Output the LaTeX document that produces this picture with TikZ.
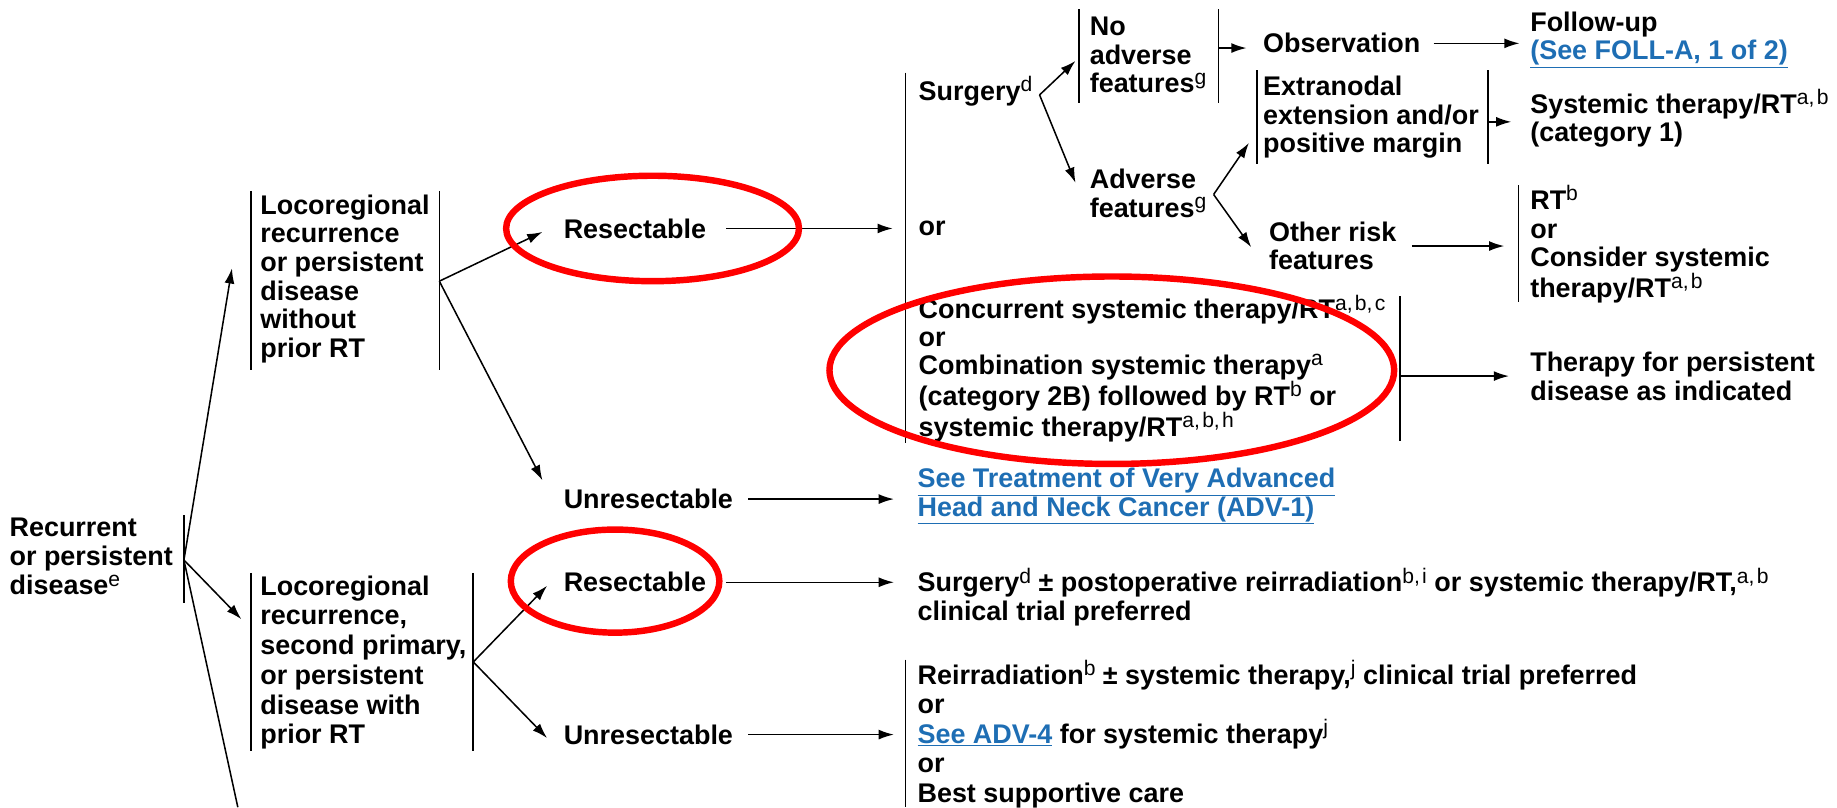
\documentclass[tikz,border=0pt]{standalone}
\usepackage{fontspec}
\setmainfont{Liberation Sans}
\usetikzlibrary{arrows.meta,calc}
\definecolor{linkblue}{RGB}{30,110,180}
\definecolor{markred}{RGB}{255,0,0}
% footnote markers: regular weight, slightly spaced after commas
\newcommand\fnote[1]{\raisebox{7.5pt}{\mdseries\fontsize{18}{18}\selectfont #1}}
\newcommand\sk{\kern2pt}
\newcommand\lnk[1]{{\color{linkblue}\underline{#1}}}
\begin{document}
\begin{tikzpicture}[x=1pt,y=-1pt,
  txt/.style={anchor=west,inner sep=0pt,align=left,font=\bfseries\fontsize{23}{24.4}\selectfont},
  lsk/.style={font=\bfseries\fontsize{23}{#1}\selectfont},
  arr/.style={-{Latex[length=13pt,width=8.5pt]},line width=1.3pt},
  plain/.style={line width=1.3pt},
  barline/.style={line width=1.4pt},
  hilite/.style={draw=markred,line width=5.5pt}]
\useasboundingbox (0,0) rectangle (1568,689);

% ---- text blocks ----
\node[txt,lsk=25] (root) at (8,475) {Recurrent\\or persistent\\disease\fnote{e}};
\node[txt] (box1) at (222,238) {Locoregional\\recurrence\\or persistent\\disease\\without\\prior RT};
\node[txt,lsk=25.4] (box2) at (222,565.5) {Locoregional\\recurrence,\\second primary,\\or persistent\\disease with\\prior RT};
\node[txt] (res1) at (481,195) {Resectable};
\node[txt] (unres1) at (481,426) {Unresectable};
\node[txt] (res2) at (481,497) {Resectable};
\node[txt] (unres2) at (481,627) {Unresectable};
\node[txt] (surg) at (784,78) {Surgery\fnote{d}};
\node[txt] (orA) at (784,195) {or};
\node[txt,lsk=23.75] (conc) at (784,314.5) {Concurrent systemic therapy/RT\fnote{a,\sk b,\sk c}\\or\\Combination systemic therapy\fnote{a}\\(category 2B) followed by RT\fnote{b} or\\systemic therapy/RT\fnote{a,\sk b,\sk h}};
\node[txt] (noadv) at (930,47) {No\\adverse\\features\fnote{g}};
\node[txt] (adv) at (930,165) {Adverse\\features\fnote{g}};
\node[txt] (obs) at (1078,37) {Observation};
\node[txt] (follow) at (1306,34) {Follow-up\\\lnk{(See FOLL-A, 1 of 2)}};
\node[txt] (extr) at (1078,100) {Extranodal\\extension and/or\\positive margin};
\node[txt] (sysrt) at (1306,101) {Systemic therapy/RT\fnote{a,\sk b}\\(category 1)};
\node[txt] (other) at (1083,210) {Other risk\\features};
\node[txt] (rtbox) at (1306,208.5) {RT\fnote{b}\\or\\Consider systemic\\therapy/RT\fnote{a,\sk b}};
\node[txt] (persist) at (1306,321) {Therapy for persistent\\disease as indicated};
\node[txt] (adv1) at (783,423.5) {\lnk{See Treatment of Very Advanced}\\\lnk{Head and Neck Cancer (ADV-1)}};
\node[txt] (surg2) at (783,509.5) {Surgery\fnote{d} ± postoperative reirradiation\fnote{b,\sk i} or systemic therapy/RT,\fnote{a,\sk b}\\clinical trial preferred};
\node[txt,lsk=25.25] (reirr) at (783,626.5) {Reirradiation\fnote{b} ± systemic therapy,\fnote{j} clinical trial preferred\\or\\\lnk{See ADV-4} for systemic therapy\fnote{j}\\or\\Best supportive care};

% ---- brackets ----
\draw[barline] (157,440) -- (157,515);
\draw[barline] (214,163) -- (214,316);
\draw[barline] (375,163) -- (375,316);
\draw[barline] (214,489) -- (214,641);
\draw[barline] (404,489) -- (404,641);
\draw[barline] (773,62) -- (773,378);
\draw[barline] (1195,253) -- (1195,376);
\draw[barline] (921,8) -- (921,88);
\draw[barline] (1040,8) -- (1040,88);
\draw[barline] (1073,60) -- (1073,140);
\draw[barline] (1270,60) -- (1270,140);
\draw[barline] (1296,158) -- (1296,258);
\draw[barline] (773,563) -- (773,689);

% ---- bracket attachment points ----
\coordinate (rootbar) at (157,478);
\coordinate (rootdown) at (203,689);
\coordinate (b1r) at (375,240);
\coordinate (b2r) at (404,565);
\coordinate (concr) at (1195,321);
\coordinate (nar) at (1040,41);
\coordinate (exr) at (1270,104);

% ---- connectors ----
\draw[arr] (rootbar) -- ([shift={(-24,-9)}]box1.west);
\draw[arr] (rootbar) -- ([shift={(-16,-37)}]box2.west);
\draw[plain] (rootbar) -- (rootdown);

\draw[arr] (b1r) -- ([shift={(-18,3)}]res1.west);
\draw[arr] (b1r) -- ([shift={(-18,-16)}]unres1.west);
\draw[arr] ([xshift=17]res1.east) -- ($(res1.east -| orA.west)+(-22,0)$);
\draw[arr] ([xshift=13]unres1.east) -- ($(unres1.east -| adv1.west)+(-20,0)$);

\draw[arr] ([shift={(6,3)}]surg.east) -- ([shift={(-12,5)}]noadv.west);
\draw[arr] ([shift={(6,3)}]surg.east) -- ([shift={(-12,-9)}]adv.west);
\draw[arr] (nar) -- ($(nar -| obs.west)+(-14,0)$);
\draw[arr] ([xshift=11]obs.east) -- ($(obs.east -| follow.west)+(-9,0)$);
\draw[arr] ([shift={(6,1)}]adv.east) -- ([shift={(-12,22)}]extr.west);
\draw[arr] ([shift={(6,1)}]adv.east) -- ([shift={(-15,1)}]other.west);
\draw[arr] (exr) -- ($(exr -| sysrt.west)+(-16,0)$);
\draw[arr] ([xshift=13]other.east) -- ($(other.east -| rtbox.west)+(-22,0)$);
\draw[arr] (concr) -- ($(concr -| persist.west)+(-18,0)$);

\draw[arr] (b2r) -- ([shift={(-14,3)}]res2.west);
\draw[arr] (b2r) -- ([shift={(-14,3)}]unres2.west);
\draw[arr] ([xshift=17]res2.east) -- ($(res2.east -| surg2.west)+(-20,0)$);
\draw[arr] ([xshift=13]unres2.east) -- ($(unres2.east -| reirr.west)+(-20,0)$);

% ---- red highlight rings ----
\draw[hilite] (557,195) ellipse [x radius=125, y radius=45];
\draw[hilite] (949,316) ellipse [x radius=241, y radius=80];
\draw[hilite] (525,496) ellipse [x radius=89, y radius=44];
\end{tikzpicture}
\end{document}
